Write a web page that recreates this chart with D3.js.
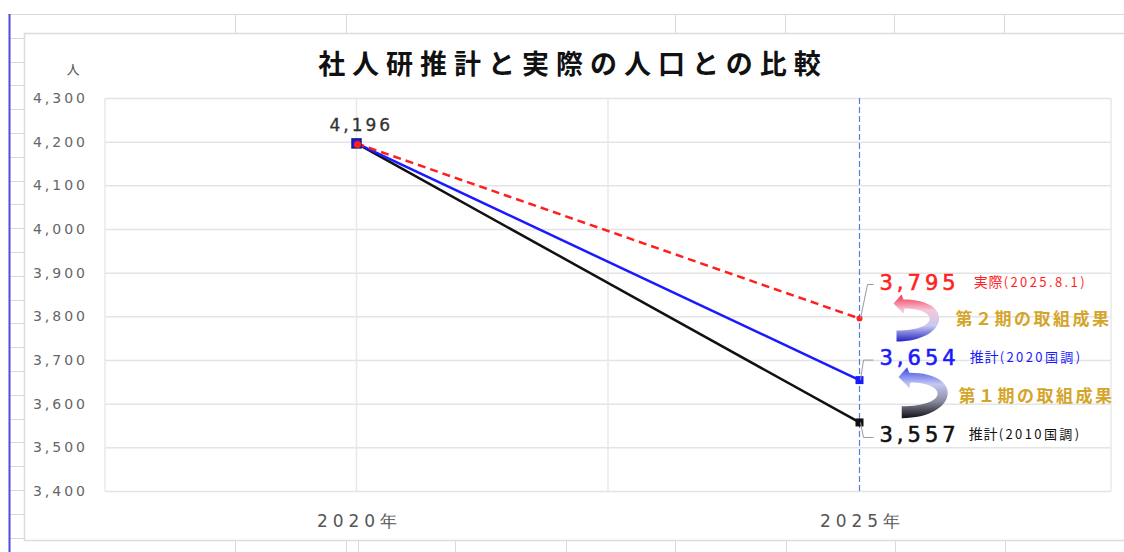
<!DOCTYPE html>
<html>
<head>
<meta charset="utf-8">
<script src="https://cdn.jsdelivr.net/npm/d3@7"></script>
<style>
  body { margin: 0; background: #fff; }
  svg { display: block; }
</style>
</head>
<body>
<script>
const title = '社人研推計と実際の人口との比較'
const unit = '人'
const years = ['2020年', '2025年']
const actual = [4196, 3795]
const est2020 = [4196, 3654]
const est2010 = [4196, 3557]
const yTicks = [3400, 3500, 3600, 3700, 3800, 3900, 4000, 4100, 4200, 4300]
const endNotes = ['実際', '推計', '推計']
const endSubs = ['(2025.8.1)', '(2020国調)', '(2010国調)']
const stageLabels = ['第２期の取組成果', '第１期の取組成果']

const W = 1124
const H = 552
const plot = {left: 105, right: 1111, top: 98, bottom: 491}
const numFont = '"DejaVu Sans", Verdana, sans-serif'
const jpFont = '"Noto Sans CJK JP", "Noto Sans", sans-serif'

const svg = d3.select('body').append('svg')
  .attr('width', W)
  .attr('height', H)

// spreadsheet cells peeking out round the chart
const sheet = svg.append('g').attr('stroke', '#d9d9d9').attr('stroke-width', 1)
sheet.append('line').attr('x1', 8).attr('x2', W).attr('y1', 14.5).attr('y2', 14.5)
d3.range(1, 23).forEach(k => {
  const y = Math.round(14 + k * 23.8) + 0.5
  sheet.append('line').attr('x1', 10).attr('x2', 24).attr('y1', y).attr('y2', y)
})
;[235, 346, 675, 785, 894, 1004].forEach(x => {
  sheet.append('line').attr('x1', x + 0.5).attr('x2', x + 0.5).attr('y1', 14).attr('y2', 33)
})
;[235, 346, 358, 455, 566, 675, 786, 895, 1005].forEach(x => {
  sheet.append('line').attr('x1', x + 0.5).attr('x2', x + 0.5).attr('y1', 541).attr('y2', H)
})
svg.append('line')
  .attr('x1', 9.5).attr('x2', 9.5).attr('y1', 14).attr('y2', H)
  .attr('stroke', '#4b4be0').attr('stroke-width', 2)

// chart box
svg.append('rect')
  .attr('x', 24.5).attr('y', 33.5)
  .attr('width', W).attr('height', 507)
  .attr('fill', '#fff')
  .attr('stroke', '#dcdcdc')
  .attr('stroke-width', 1.5)

const x = d3.scalePoint()
  .domain(years)
  .range([plot.left, plot.right])
  .padding(0.5)

const y = d3.scaleLinear()
  .domain([yTicks[0], yTicks[yTicks.length - 1]])
  .range([plot.bottom, plot.top])

// horizontal grid + y labels
const yAxis = d3.axisLeft(y)
  .tickValues(yTicks)
  .tickSize(plot.left - plot.right)
  .tickFormat(d3.format(','))
const yg = svg.append('g')
  .attr('transform', `translate(${plot.left},0)`)
  .call(yAxis)
yg.select('.domain').remove()
yg.selectAll('.tick line').attr('stroke', '#e4e4e4').attr('stroke-width', 1.5)
yg.selectAll('.tick text')
  .attr('x', -17)
  .attr('fill', '#666')
  .attr('font-family', numFont)
  .attr('font-size', 14)
  .attr('letter-spacing', 3)

// vertical grid: plot edges, between categories and at 2020
const half = x.step() / 2
const vgrid = [plot.left, x(years[0]), x(years[0]) + half, plot.right]
svg.append('g').selectAll('line')
  .data(vgrid)
  .join('line')
  .attr('x1', d => d).attr('x2', d => d)
  .attr('y1', plot.top).attr('y2', plot.bottom)
  .attr('stroke', '#e8e8e8')
  .attr('stroke-width', 1.5)

// dashed guide at 2025
svg.append('line')
  .attr('x1', x(years[1])).attr('x2', x(years[1]))
  .attr('y1', plot.top).attr('y2', plot.bottom)
  .attr('stroke', '#4f7fe0')
  .attr('stroke-width', 1.2)
  .attr('stroke-dasharray', '6,3')

// x labels
const xAxis = d3.axisBottom(x).tickSize(0).tickPadding(24)
const xg = svg.append('g')
  .attr('transform', `translate(0,${plot.bottom})`)
  .call(xAxis)
xg.select('.domain').remove()
xg.selectAll('.tick text')
  .attr('fill', '#555')
  .attr('font-family', numFont)
  .attr('font-size', 17)
  .attr('letter-spacing', 5)
  .attr('dx', 2.5)

// title and unit
svg.append('text')
  .attr('x', 573).attr('y', 74)
  .attr('text-anchor', 'middle')
  .attr('font-family', jpFont)
  .attr('font-weight', 'bold')
  .attr('font-size', 27)
  .attr('letter-spacing', 7)
  .attr('fill', '#111')
  .text(title)
svg.append('text')
  .attr('x', 73).attr('y', 74)
  .attr('text-anchor', 'middle')
  .attr('font-family', jpFont)
  .attr('font-size', 13)
  .attr('fill', '#555')
  .text(unit)

// series
const series = [
  {values: est2010, color: '#111', dash: null, marker: 'square', note: 2, dy: 20, gap: 9},
  {values: est2020, color: '#1a1aff', dash: null, marker: 'square', note: 1, dy: -15, gap: 10},
  {values: actual, color: '#ff1f1f', dash: '8,5', marker: 'circle', note: 0, dy: -29, gap: 14}
]

const line = d3.line()
  .x((d, i) => x(years[i]))
  .y(d => y(d))

series.forEach(s => {
  svg.append('path')
    .attr('d', line(s.values))
    .attr('fill', 'none')
    .attr('stroke', s.color)
    .attr('stroke-width', 2.5)
    .attr('stroke-dasharray', s.dash)
})

// 2020 start point (shared)
const x0 = x(years[0])
const y0 = y(actual[0])
svg.append('rect')
  .attr('x', x0 - 4.5).attr('y', y0 - 4.5)
  .attr('width', 9).attr('height', 9)
  .attr('fill', '#1a1aff')
  .attr('stroke', '#1c1c6e')
  .attr('stroke-width', 1.5)
svg.append('circle')
  .attr('cx', x0 + 1).attr('cy', y0 + 1).attr('r', 3.5)
  .attr('fill', '#ff1f1f')

svg.append('text')
  .attr('x', x0 - 27).attr('y', y0 - 12)
  .attr('font-family', numFont)
  .attr('font-size', 17)
  .attr('letter-spacing', 3)
  .attr('fill', '#333')
  .attr('stroke', '#333')
  .attr('stroke-width', 0.3)
  .text(d3.format(',')(actual[0]))

// 2025 end points, leaders and labels
const x1 = x(years[1])
series.forEach(s => {
  const v = s.values[1]
  const py = y(v)
  if (s.marker === 'square') {
    svg.append('rect')
      .attr('x', x1 - 4).attr('y', py - 4)
      .attr('width', 8).attr('height', 8)
      .attr('fill', s.color)
  } else {
    svg.append('circle')
      .attr('cx', x1).attr('cy', py).attr('r', 3)
      .attr('fill', s.color)
  }
  const base = py + s.dy
  const ly = base - 5
  const bend = s.dy < -20 ? 8 : 4
  svg.append('path')
    .attr('d', d3.line()([[x1 + 1, py], [x1 + bend, ly], [x1 + 14, ly]]))
    .attr('fill', 'none')
    .attr('stroke', '#999')
    .attr('stroke-width', 1)
  const t = svg.append('text')
    .attr('x', x1 + 20).attr('y', base)
    .attr('fill', s.color)
  t.append('tspan')
    .attr('font-family', numFont)
    .attr('font-size', 21)
    .attr('letter-spacing', 4)
    .attr('stroke', s.color)
    .attr('stroke-width', 0.6)
    .text(d3.format(',')(v))
  t.append('tspan')
    .attr('dx', s.gap)
    .attr('dy', -3)
    .attr('font-family', jpFont)
    .attr('font-size', 14)
    .attr('letter-spacing', 1)
    .text(endNotes[s.note])
  t.append('tspan')
    .attr('font-family', jpFont)
    .attr('font-size', 13)
    .attr('letter-spacing', 2.4)
    .text(endSubs[s.note])
})

// curved "result" arrows between the 2025 values
const defs = svg.append('defs')
const grads = [
  {id: 'g2', stops: ['#f3304e', '#f4c8d8', '#c8c8f0', '#2424c4']},
  {id: 'g1', stops: ['#3646e6', '#c4c8f2', '#8a8aa0', '#111118']}
]
grads.forEach(g => {
  const lg = defs.append('linearGradient')
    .attr('id', g.id)
    .attr('x1', 0).attr('y1', 0).attr('x2', 0).attr('y2', 1)
  g.stops.forEach((c, i) => {
    lg.append('stop').attr('offset', i / (g.stops.length - 1)).attr('stop-color', c)
  })
})

const arrowPath = 'M3,38 C55,38 62,-4 10,-4 L8,-9 L0,0 L10,10 L11,5 C45,5 47,27 3,27 Z'
const arrows = [
  {from: actual[1], grad: 'g2', label: stageLabels[0], dx: 34, dy: -15, k: 1, tx: 96, ty: 6},
  {from: est2020[1], grad: 'g1', label: stageLabels[1], dx: 39, dy: -3, k: 1.08, tx: 99, ty: 6}
]
arrows.forEach(a => {
  const tipY = y(a.from) + a.dy
  svg.append('path')
    .attr('d', arrowPath)
    .attr('transform', `translate(${x1 + a.dx},${tipY}) scale(${a.k})`)
    .attr('fill', `url(#${a.grad})`)
  svg.append('text')
    .attr('x', x1 + a.tx)
    .attr('y', y(a.from) + a.ty + (a.dy + 15) * 1.3)
    .attr('font-family', jpFont)
    .attr('font-weight', 'bold')
    .attr('font-size', 17)
    .attr('letter-spacing', 2.5)
    .attr('fill', '#d4a52a')
    .text(a.label)
})
</script>
</body>
</html>
